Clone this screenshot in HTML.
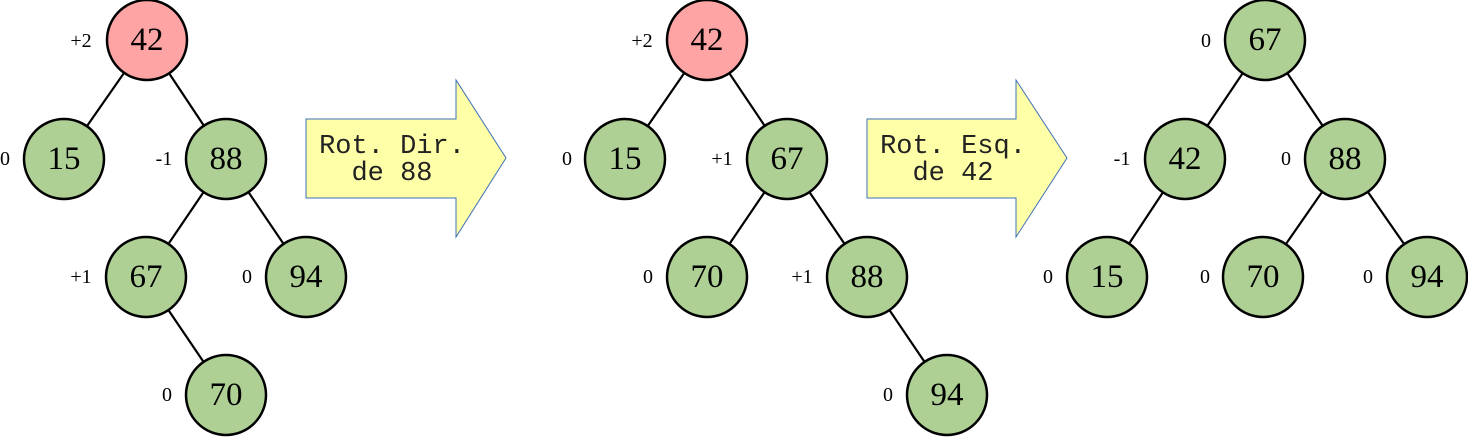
<!DOCTYPE html>
<html><head><meta charset="utf-8"><style>
html,body{margin:0;padding:0;background:#fff;width:1468px;height:437px;overflow:hidden}
svg{display:block}
.n{fill:#aed095;stroke:#000;stroke-width:2.5}
.r{fill:#ffa4a4;stroke:#000;stroke-width:2.5}
.t{font-family:"Liberation Serif",serif;font-size:33px;text-anchor:middle;dominant-baseline:central}
.l{font-family:"Liberation Serif",serif;font-size:20px;text-anchor:middle;dominant-baseline:central}
.m{font-family:"Liberation Mono","Courier New",monospace;font-size:27px;text-anchor:middle;fill:#222}
line{stroke:#000;stroke-width:2.2}
.a{fill:#ffffa8;stroke:#3d6fb8;stroke-width:1}
</style></head><body>
<svg width="1468" height="437" viewBox="0 0 1468 437">
<!-- tree 1 -->
<line x1="147" y1="40" x2="64" y2="159"/><line x1="147" y1="40" x2="226" y2="159"/>
<line x1="226" y1="159" x2="146" y2="277"/><line x1="226" y1="159" x2="306" y2="277"/>
<line x1="146" y1="277" x2="226" y2="395"/>
<circle class="r" cx="147" cy="40" r="40"/><text class="t" x="147" y="40">42</text>
<circle class="n" cx="64" cy="159" r="40"/><text class="t" x="64" y="159">15</text>
<circle class="n" cx="226" cy="159" r="40"/><text class="t" x="226" y="159">88</text>
<circle class="n" cx="146" cy="277" r="40"/><text class="t" x="146" y="277">67</text>
<circle class="n" cx="306" cy="277" r="40"/><text class="t" x="306" y="277">94</text>
<circle class="n" cx="226" cy="395" r="40"/><text class="t" x="226" y="395">70</text>
<text class="l" x="81" y="41">+2</text><text class="l" x="5" y="159">0</text>
<text class="l" x="164" y="159">-1</text><text class="l" x="81" y="277">+1</text>
<text class="l" x="247" y="277">0</text><text class="l" x="167" y="395">0</text>
<!-- arrow 1 -->
<polygon class="a" points="306,119 456,119 456,80 506,158 456,237 456,198 306,198"/>
<text class="m" x="392" y="153">Rot. Dir.</text><text class="m" x="392" y="180">de 88</text>
<!-- tree 2 -->
<line x1="707" y1="40" x2="625" y2="159"/><line x1="707" y1="40" x2="787" y2="159"/>
<line x1="787" y1="159" x2="707" y2="277"/><line x1="787" y1="159" x2="867" y2="277"/>
<line x1="867" y1="277" x2="947" y2="395"/>
<circle class="r" cx="707" cy="40" r="40"/><text class="t" x="707" y="40">42</text>
<circle class="n" cx="625" cy="159" r="40"/><text class="t" x="625" y="159">15</text>
<circle class="n" cx="787" cy="159" r="40"/><text class="t" x="787" y="159">67</text>
<circle class="n" cx="707" cy="277" r="40"/><text class="t" x="707" y="277">70</text>
<circle class="n" cx="867" cy="277" r="40"/><text class="t" x="867" y="277">88</text>
<circle class="n" cx="947" cy="395" r="40"/><text class="t" x="947" y="395">94</text>
<text class="l" x="642" y="41">+2</text><text class="l" x="567" y="159">0</text>
<text class="l" x="722" y="159">+1</text><text class="l" x="648" y="277">0</text>
<text class="l" x="802" y="277">+1</text><text class="l" x="888" y="395">0</text>
<!-- arrow 2 -->
<polygon class="a" points="867,119 1016,119 1016,80 1067,158 1016,237 1016,198 867,198"/>
<text class="m" x="953" y="153">Rot. Esq.</text><text class="m" x="953" y="180">de 42</text>
<!-- tree 3 -->
<line x1="1265" y1="40" x2="1185" y2="159"/><line x1="1265" y1="40" x2="1345" y2="159"/>
<line x1="1185" y1="159" x2="1107" y2="277"/>
<line x1="1345" y1="159" x2="1263" y2="277"/><line x1="1345" y1="159" x2="1427" y2="277"/>
<circle class="n" cx="1265" cy="40" r="40"/><text class="t" x="1265" y="40">67</text>
<circle class="n" cx="1185" cy="159" r="40"/><text class="t" x="1185" y="159">42</text>
<circle class="n" cx="1345" cy="159" r="40"/><text class="t" x="1345" y="159">88</text>
<circle class="n" cx="1107" cy="277" r="40"/><text class="t" x="1107" y="277">15</text>
<circle class="n" cx="1263" cy="277" r="40"/><text class="t" x="1263" y="277">70</text>
<circle class="n" cx="1427" cy="277" r="40"/><text class="t" x="1427" y="277">94</text>
<text class="l" x="1206" y="41">0</text><text class="l" x="1122" y="159">-1</text>
<text class="l" x="1286" y="159">0</text><text class="l" x="1048" y="277">0</text>
<text class="l" x="1205" y="277">0</text><text class="l" x="1368" y="277">0</text>
</svg>
</body></html>
